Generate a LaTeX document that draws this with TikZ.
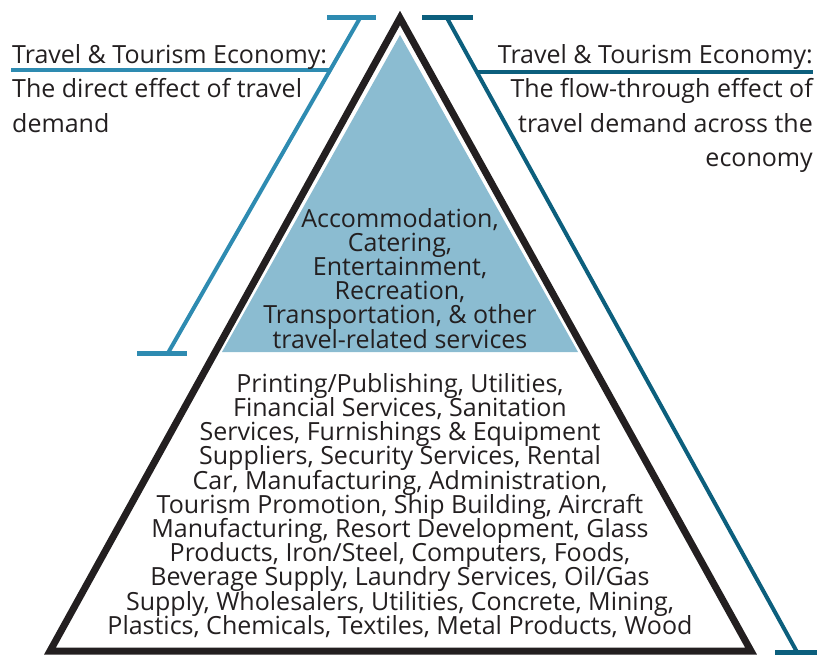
\documentclass[tikz,border=0pt]{standalone}
\usepackage{fontspec}
\setmainfont{Open Sans}
\usetikzlibrary{positioning}
\definecolor{inkdark}{HTML}{231F20}
\definecolor{directblue}{HTML}{2E8BB1}
\definecolor{flowblue}{HTML}{0C5F7D}
\definecolor{corefill}{HTML}{8BBCD1}
% tight leading: keep every line on a fixed step
\newcommand{\tightleading}{\setlength{\lineskiplimit}{-40pt}\setlength{\lineskip}{0pt}}
\tikzset{
    outline/.style={draw=inkdark, line width=7pt, line join=miter},
    core/.style={fill=corefill, draw=none},
    bracket/.style={line width=4pt},
    capline/.style={line width=5pt},
    heading/.style={inner sep=0pt, text=inkdark, font=\fontsize{25}{34.5}\selectfont},
    sectors/.style={inner sep=0pt, text=inkdark, align=center,
        font={\fontsize{25}{24.2}\selectfont\tightleading}}
}

\begin{document}
\begin{tikzpicture}[x=1pt, y=-1pt]
        \useasboundingbox (0,0) rectangle (817,656);

        % --- Pyramid ---
        \coordinate (apex) at (400,18);
        \coordinate (baseL) at (50,651);
        \coordinate (baseR) at (751,651);
        \fill [core] (400,35) -- (578,352) -- (222,352) -- cycle;
        \draw [outline] (apex) -- (baseR) -- (baseL) -- cycle;

        % --- Left bracket: direct effect ---
        \coordinate (dTop) at (360,18);
        \coordinate (dBot) at (168,353);
        \draw [bracket, directblue] (dTop) -- (dBot);
        \draw [capline, directblue] (327,17) -- (376,17);
        \draw [capline, directblue] (137,353) -- (187,353);
        \draw [bracket, directblue] (11,70) -- (330,70);

        % --- Right bracket: flow-through effect ---
        \coordinate (fTop) at (447,18);
        \coordinate (fBot) at (797,652);
        \draw [bracket, flowblue] (fTop) -- (fBot);
        \draw [capline, flowblue] (422,17) -- (473,17);
        \draw [capline, flowblue] (775,652) -- (825,652);
        \draw [bracket, flowblue] (477,72) -- (813,72);

        % --- Headings ---
        \node (direct) [heading, anchor=north west, align=left] at (12,44)
            {Travel \& Tourism Economy:\\The direct effect of travel\\demand};
        \node (flow) [heading, anchor=north east, align=right] at (813,44)
            {Travel \& Tourism Economy:\\The flow-through effect of\\travel demand across the\\economy};

        % --- Sector lists ---
        \node (travel) [sectors, anchor=north] at (400,208)
            {Accommodation,\\Catering,\\Entertainment,\\Recreation,\\Transportation, \& other\\travel-related services};
        \node (supply) [sectors, anchor=north] at (400,373)
            {Printing/Publishing, Utilities,\\Financial Services, Sanitation\\Services, Furnishings \& Equipment\\Suppliers, Security Services, Rental\\Car, Manufacturing, Administration,\\Tourism Promotion, Ship Building, Aircraft\\Manufacturing, Resort Development, Glass\\Products, Iron/Steel, Computers, Foods,\\Beverage Supply, Laundry Services, Oil/Gas\\Supply, Wholesalers, Utilities, Concrete, Mining,\\Plastics, Chemicals, Textiles, Metal Products, Wood};
    \end{tikzpicture}
\end{document}
